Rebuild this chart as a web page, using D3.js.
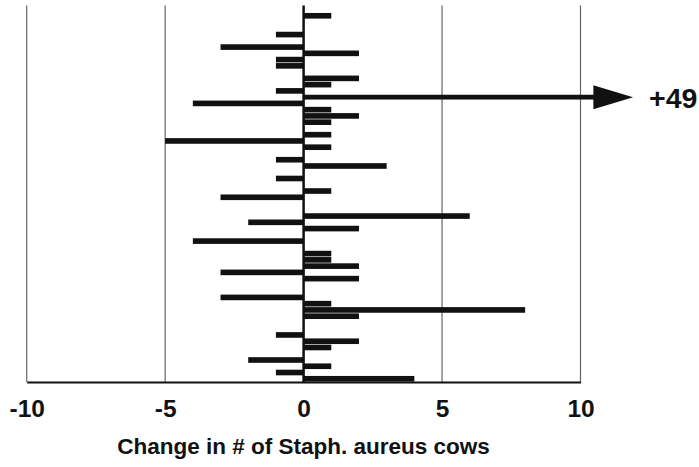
<!DOCTYPE html>
<html>
<head>
  <style>
    body { margin: 0; background: #fff; }
    svg { display: block; }
    text { font-family: Arial, "Liberation Sans", sans-serif; font-weight: bold; fill: #111; }
  </style>
  <script src="https://d3js.org/d3.v7.min.js"></script>
</head>
<body>
  <div id="chart"></div>
  <script>
    // one slot per herd, top to bottom; 0 = no change (no bar drawn)
    const herds = d3.range(1, 61);
    const change = [
      0, 1, 0, 0, -1, 0, -3, 2, -1, -1,
      0, 2, 1, -1, 49, -4, 1, 2, 1, 0,
      1, -5, 1, 0, -1, 3, 0, -1, 0, 1,
      -3, 0, 0, 6, -2, 2, 0, -4, 0, 1,
      1, 2, -3, 2, 0, 0, -3, 1, 8, 2,
      0, 0, -1, 2, 1, 0, -2, 1, -1, 4
    ];
    const xTicks = [-10, -5, 0, 5, 10];
    const axisTitle = "Change in # of Staph. aureus cows";
    const offScale = 49;          // value drawn as an arrow past the axis
    const arrowBase = 10.5, arrowTip = 11.9;

    const width = 699, height = 467;
    const plot = { left: 26.7, right: 580.5, top: 6.4, bottom: 381.9 };

    const svg = d3.select("#chart").append("svg")
      .attr("width", width).attr("height", height);

    const x = d3.scaleLinear().domain([-10, 10]).range([plot.left, plot.right]);
    const y = d3.scaleBand().domain(herds).range([plot.top, plot.bottom]).paddingInner(0.1).paddingOuter(0.05);

    // vertical grid lines
    svg.append("g").selectAll("line")
      .data(xTicks.filter(d => d !== 0))
      .join("line")
      .attr("x1", d => x(d)).attr("x2", d => x(d))
      .attr("y1", plot.top - 1).attr("y2", plot.bottom)
      .attr("stroke", "#666").attr("stroke-width", 1.2);

    const data = herds.map((h, i) => ({ herd: h, value: change[i] }));

    // ordinary bars
    svg.append("g").selectAll("rect")
      .data(data.filter(d => d.value !== 0 && d.value !== offScale))
      .join("rect")
      .attr("x", d => x(Math.min(0, d.value)))
      .attr("width", d => Math.abs(x(d.value) - x(0)))
      .attr("y", d => y(d.herd))
      .attr("height", y.bandwidth())
      .attr("fill", "#111");

    // the +49 herd: bar continues as an arrow
    const big = data.find(d => d.value === offScale);
    const cy = y(big.herd) + y.bandwidth() / 2;
    svg.append("rect")
      .attr("x", x(0)).attr("width", x(arrowBase) - x(0))
      .attr("y", cy - 2.4).attr("height", 4.8)
      .attr("fill", "#111");
    svg.append("path")
      .attr("d", `M${x(arrowBase) - 1},${cy - 12}L${x(arrowTip)},${cy}L${x(arrowBase) - 1},${cy + 12}Z`)
      .attr("fill", "#111");
    svg.append("text")
      .attr("x", x(arrowTip) + 16).attr("y", cy + 10.5)
      .attr("font-size", 28.5)
      .text("+" + big.value);

    // zero line
    svg.append("line")
      .attr("x1", x(0)).attr("x2", x(0))
      .attr("y1", plot.top - 1).attr("y2", plot.bottom)
      .attr("stroke", "#111").attr("stroke-width", 2.5);

    // x axis
    const xAxis = d3.axisBottom(x).tickValues(xTicks).tickSize(0).tickPadding(18)
      .tickFormat(d3.format("d"));
    const gx = svg.append("g")
      .attr("transform", `translate(0,${plot.bottom})`)
      .call(xAxis);
    gx.select(".domain").attr("stroke", "#111").attr("stroke-width", 2);
    gx.selectAll(".tick text")
      .attr("font-size", 24.5)
      .attr("font-family", "Arial, 'Liberation Sans', sans-serif")
      .attr("font-weight", "bold")
      .attr("fill", "#111")
      .text(d => d < 0 ? "-" + Math.abs(d) : d);

    svg.append("text")
      .attr("x", x(0)).attr("y", 453.5)
      .attr("text-anchor", "middle")
      .attr("font-size", 22.5)
      .text(axisTitle);
  </script>
</body>
</html>
